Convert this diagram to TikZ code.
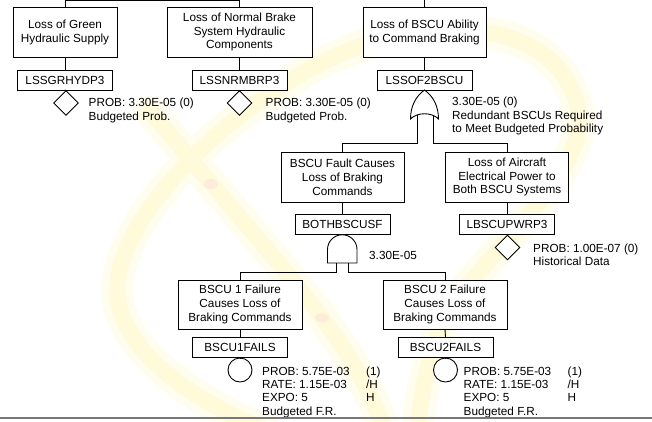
\documentclass[tikz,border=0pt]{standalone}
\usepackage{fontspec}
\setmainfont{Liberation Sans}
\usetikzlibrary{shapes.geometric}

\definecolor{wmouter}{RGB}{255,253,238}
\definecolor{wminner}{RGB}{255,250,218}
\definecolor{wmorange}{RGB}{254,236,218}
\definecolor{rulegrey}{RGB}{120,120,120}

\tikzset{
  every node/.style={font=\fontsize{11.8}{14}\selectfont},
  wire/.style={line width=0.9bp},
  evbox/.style={draw, fill=white, align=center, inner sep=0pt, line width=0.9bp},
  idbox/.style={draw, fill=white, inner sep=0pt, minimum width=95bp, minimum height=20bp, line width=0.9bp},
  basicdia/.style={diamond, draw, fill=white, inner sep=0pt, minimum width=25bp, minimum height=25bp, line width=0.9bp},
  basiccirc/.style={circle, draw, fill=white, inner sep=0pt, minimum size=24bp, line width=0.9bp},
  info/.style={anchor=west, align=left, inner sep=0pt, font=\fontsize{11.8}{13.5}\selectfont},
  gatelabel/.style={anchor=west, align=left, inner sep=0pt},
  swooshout/.style={line width=32bp, draw=wmouter, line cap=round},
  swooshin/.style={line width=16bp, draw=wminner, line cap=round},
  gateshape/.style={line width=0.9bp, fill=white},
}

\begin{document}
\begin{tikzpicture}[x=1bp, y=-1bp]
\useasboundingbox (0,0) rectangle (652,421);

% faint background logo strokes
\def\logoloop{(265,430) .. controls (180,395) and (110,340) .. (118,280)
  .. controls (128,200) and (250,90) .. (350,50)
  .. controls (440,15) and (560,20) .. (578,110)
  .. controls (590,180) and (470,260) .. (440,330)
  .. controls (425,370) and (420,400) .. (418,430)}
\def\logocross{(150,112) .. controls (180,145) and (190,160) .. (212,184)
  .. controls (250,230) and (290,275) .. (322,318)
  .. controls (350,355) and (370,390) .. (385,430)}
\draw[swooshout] \logoloop;
\draw[swooshout] \logocross;
\draw[swooshin] \logoloop;
\draw[swooshin] \logocross;
\fill[wmorange] (211,184) ellipse [x radius=7, y radius=5];
\fill[wmorange] (322,318) ellipse [x radius=7, y radius=4.5];

% top-level events
\node[evbox, minimum width=104bp, minimum height=50bp] (green) at (65,32) {Loss of Green\\Hydraulic Supply};
\node[evbox, minimum width=145bp, minimum height=50bp] (normal) at (239.5,32) {Loss of Normal Brake\\System Hydraulic\\Components};
\node[evbox, minimum width=123bp, minimum height=50bp] (bscu) at (424.5,32) {Loss of BSCU Ability\\to Command Braking};

\node[idbox] (greenid) at (65,80) {LSSGRHYDP3};
\node[idbox] (normalid) at (239.5,80) {LSSNRMBRP3};
\node[idbox] (bscuid) at (424.5,80) {LSSOF2BSCU};

% links leaving the top of the page
\coordinate (topbus) at (0,0);
\draw[wire] (green.north) -- (green.north |- topbus) -| (normal.north);
\draw[wire] (bscu.north) -- (bscu.north |- topbus);

\draw[wire] (green.south) -- (greenid.north);
\draw[wire] (normal.south) -- (normalid.north);
\draw[wire] (bscu.south) -- (bscuid.north);

% undeveloped events
\node[basicdia] (greendia) at (66,103) {};
\node[basicdia] (normaldia) at (239.5,103) {};
\draw[wire] (greenid.south) -- (greendia.north);
\draw[wire] (normalid.south) -- (normaldia.north);
\node[info] (greentxt) at (88.5,110.5) {PROB: 3.30E-05 (0)\\Budgeted Prob.};
\node[info] (normaltxt) at (265.5,110.5) {PROB: 3.30E-05 (0)\\Budgeted Prob.};

% OR gate under LSSOF2BSCU
\coordinate (orInL) at (417,114);
\coordinate (orInR) at (433,114);
\coordinate (orBusL) at (417,143);
\coordinate (orBusR) at (433,143);

% second level events
\node[evbox, minimum width=123bp, minimum height=50bp] (fault) at (342.5,177) {BSCU Fault Causes\\Loss of Braking\\Commands};
\node[evbox, minimum width=123bp, minimum height=50bp] (power) at (507,177) {Loss of Aircraft\\Electrical Power to\\Both BSCU Systems};

\draw[wire] (orInL) -- (orBusL) -| (fault.north);
\draw[wire] (orInR) -- (orBusR) -| (power.north);
\draw[gateshape] (424.5,90) .. controls (416,96) and (410.5,106) .. (410.5,119)
  .. controls (417,112) and (432,112) .. (438.5,119)
  .. controls (438.5,106) and (433,96) .. (424.5,90) -- cycle;
\node[gatelabel] (ortxt) at (452,116) {3.30E-05 (0)\\Redundant BSCUs Required\\to Meet Budgeted Probability};

\node[idbox] (bothid) at (342.5,224.5) {BOTHBSCUSF};
\node[idbox] (powerid) at (507,224.5) {LBSCUPWRP3};
\draw[wire] (fault.south) -- (bothid.north);
\draw[wire] (power.south) -- (powerid.north);

\node[basicdia] (powerdia) at (507.5,247.5) {};
\draw[wire] (powerid.south) -- (powerdia.north);
\node[info] (powertxt) at (533,255) {PROB: 1.00E-07 (0)\\Historical Data};

% AND gate under BOTHBSCUSF
\coordinate (andInL) at (336.5,263);
\coordinate (andInR) at (348.5,263);
\coordinate (andBusL) at (336.5,272);
\coordinate (andBusR) at (348.5,272);
\draw[gateshape] (327.5,263) -- (327.5,249.5) arc[start angle=180, end angle=360, radius=14.75] -- (357,263) -- cycle;
\node[gatelabel] (andtxt) at (369,255) {3.30E-05};

% third level events
\node[evbox, minimum width=124bp, minimum height=49bp] (fail1) at (240,304.5) {BSCU 1 Failure\\Causes Loss of\\Braking Commands};
\node[evbox, minimum width=124bp, minimum height=49bp] (fail2) at (445,304.5) {BSCU 2 Failure\\Causes Loss of\\Braking Commands};
\draw[wire] (andInL) -- (andBusL) -| (fail1.north);
\draw[wire] (andInR) -- (andBusR) -| (fail2.north);

\node[idbox] (fail1id) at (240,347.5) {BSCU1FAILS};
\node[idbox] (fail2id) at (445.5,347.5) {BSCU2FAILS};
\draw[wire] (fail1.south) -- (fail1id.north);
\draw[wire] (fail2.south) -- (fail2id.north);

% basic events
\node[basiccirc] (fail1circ) at (240,370) {};
\node[basiccirc] (fail2circ) at (445.5,370) {};
\draw[wire] (fail1id.south) -- (fail1circ.north);
\draw[wire] (fail2id.south) -- (fail2circ.north);
\node[info] (fail1txt) at (262,392.5) {\begin{tabular}{@{}p{104bp}@{}l@{}}PROB: 5.75E-03 & (1)\\RATE: 1.15E-03 & /H\\EXPO: 5 & H\\Budgeted F.R. & \end{tabular}};
\node[info] (fail2txt) at (463.5,392.5) {\begin{tabular}{@{}p{104bp}@{}l@{}}PROB: 5.75E-03 & (1)\\RATE: 1.15E-03 & /H\\EXPO: 5 & H\\Budgeted F.R. & \end{tabular}};

% page rule
\draw[rulegrey, line width=2.2bp] (0,418.3) -- (652,418.3);
\end{tikzpicture}
\end{document}
